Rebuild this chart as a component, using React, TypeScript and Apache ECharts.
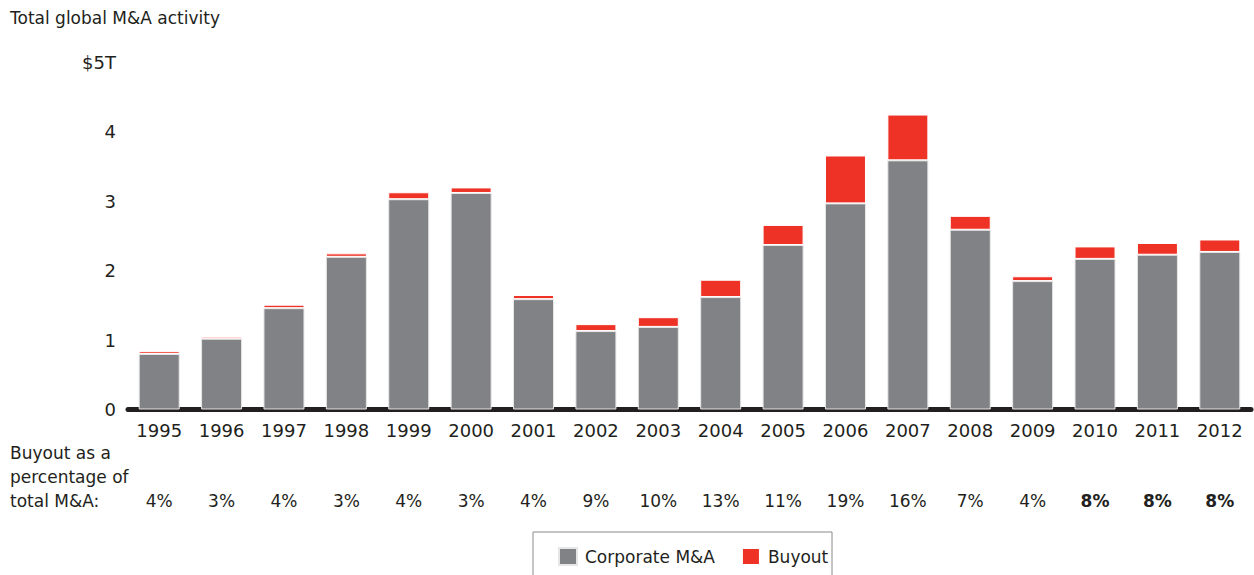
import React, { useEffect, useRef } from "react";
import * as echarts from "echarts";

const years = ["1995","1996","1997","1998","1999","2000","2001","2002","2003","2004","2005","2006","2007","2008","2009","2010","2011","2012"];
const corporate = [0.80,1.02,1.46,2.20,3.03,3.12,1.59,1.13,1.19,1.62,2.37,2.97,3.59,2.59,1.85,2.17,2.23,2.27];
const buyout = [0.04,0.03,0.05,0.05,0.10,0.08,0.06,0.10,0.14,0.25,0.29,0.69,0.66,0.20,0.07,0.18,0.17,0.18];
const buyoutPct = ["4%","3%","4%","3%","4%","3%","4%","9%","10%","13%","11%","19%","16%","7%","4%","8%","8%","8%"];
const boldPct = [false,false,false,false,false,false,false,false,false,false,false,false,false,false,false,true,true,true];
const yTickLabels = ["0","1","2","3","4","$5T"];

const FONT = "DejaVu Sans";
const TEXT = "#231f20";
const GRAY = "#818286";
const RED = "#ee3326";

export default function App() {
  const ref = useRef<HTMLDivElement>(null);
  useEffect(() => {
    if (!ref.current) return;
    const chart = echarts.init(ref.current, null, { renderer: "svg" });
    chart.setOption({
      animation: false,
      textStyle: { fontFamily: FONT, color: TEXT },
      grid: { left: 128, right: 3, top: 62.5, bottom: 165.5 },
      xAxis: [
        {
          type: "category",
          data: years,
          axisLine: { show: true, lineStyle: { color: TEXT, width: 5 } },
          axisTick: { show: false },
          axisLabel: { color: TEXT, fontSize: 18, fontFamily: FONT, margin: 12, interval: 0 },
        },
        {
          type: "category",
          data: years,
          position: "bottom",
          offset: 71,
          axisLine: { show: false },
          axisTick: { show: false },
          axisLabel: {
            interval: 0,
            margin: 12,
            formatter: (_v: string, i: number) => (boldPct[i] ? `{b|${buyoutPct[i]}}` : `{n|${buyoutPct[i]}}`),
            rich: {
              n: { fontSize: 17, fontFamily: FONT, color: TEXT },
              b: { fontSize: 17, fontFamily: FONT, color: TEXT, fontWeight: "bold" },
            },
          },
        },
      ],
      yAxis: {
        type: "value",
        min: 0,
        max: 5,
        interval: 1,
        splitLine: { show: false },
        axisLine: { show: false },
        axisTick: { show: false },
        axisLabel: {
          color: TEXT,
          fontSize: 18,
          fontFamily: FONT,
          margin: 12,
          formatter: (v: number) => yTickLabels[Math.round(v)],
        },
      },
      legend: {
        data: ["Corporate M&A", "Buyout"],
        left: 553,
        top: 542,
        itemWidth: 18,
        itemHeight: 17,
        itemGap: 26,
        icon: "rect",
        textStyle: { fontSize: 17, fontFamily: FONT, color: TEXT, padding: [0, 0, 0, 3] },
      },
      graphic: [
        {
          type: "text",
          left: 10,
          top: 9,
          style: { text: "Total global M&A activity", fontSize: 17, fontFamily: FONT, fill: TEXT },
        },
        {
          type: "text",
          left: 10,
          top: 441,
          style: {
            text: "Buyout as a\npercentage of\ntotal M&A:",
            fontSize: 17,
            lineHeight: 24,
            fontFamily: FONT,
            fill: TEXT,
          },
        },
        {
          type: "rect",
          shape: { x: 533, y: 532, width: 299, height: 80 },
          style: { fill: "none", stroke: "#8a8a8a", lineWidth: 1 },
        },
      ],
      series: [
        {
          name: "Corporate M&A",
          type: "bar",
          stack: "total",
          data: corporate,
          barWidth: 41,
          itemStyle: { color: GRAY, borderColor: "#e6e6e6", borderWidth: 1 },
        },
        {
          name: "Buyout",
          type: "bar",
          stack: "total",
          data: buyout,
          barWidth: 41,
          itemStyle: { color: RED, borderColor: "#ffffff", borderWidth: 1 },
        },
      ],
    });
    return () => chart.dispose();
  }, []);
  return (
    <div
      ref={ref}
      style={{ position: "absolute", left: 0, top: 0, width: 1254, height: 575 }}
    />
  );
}
